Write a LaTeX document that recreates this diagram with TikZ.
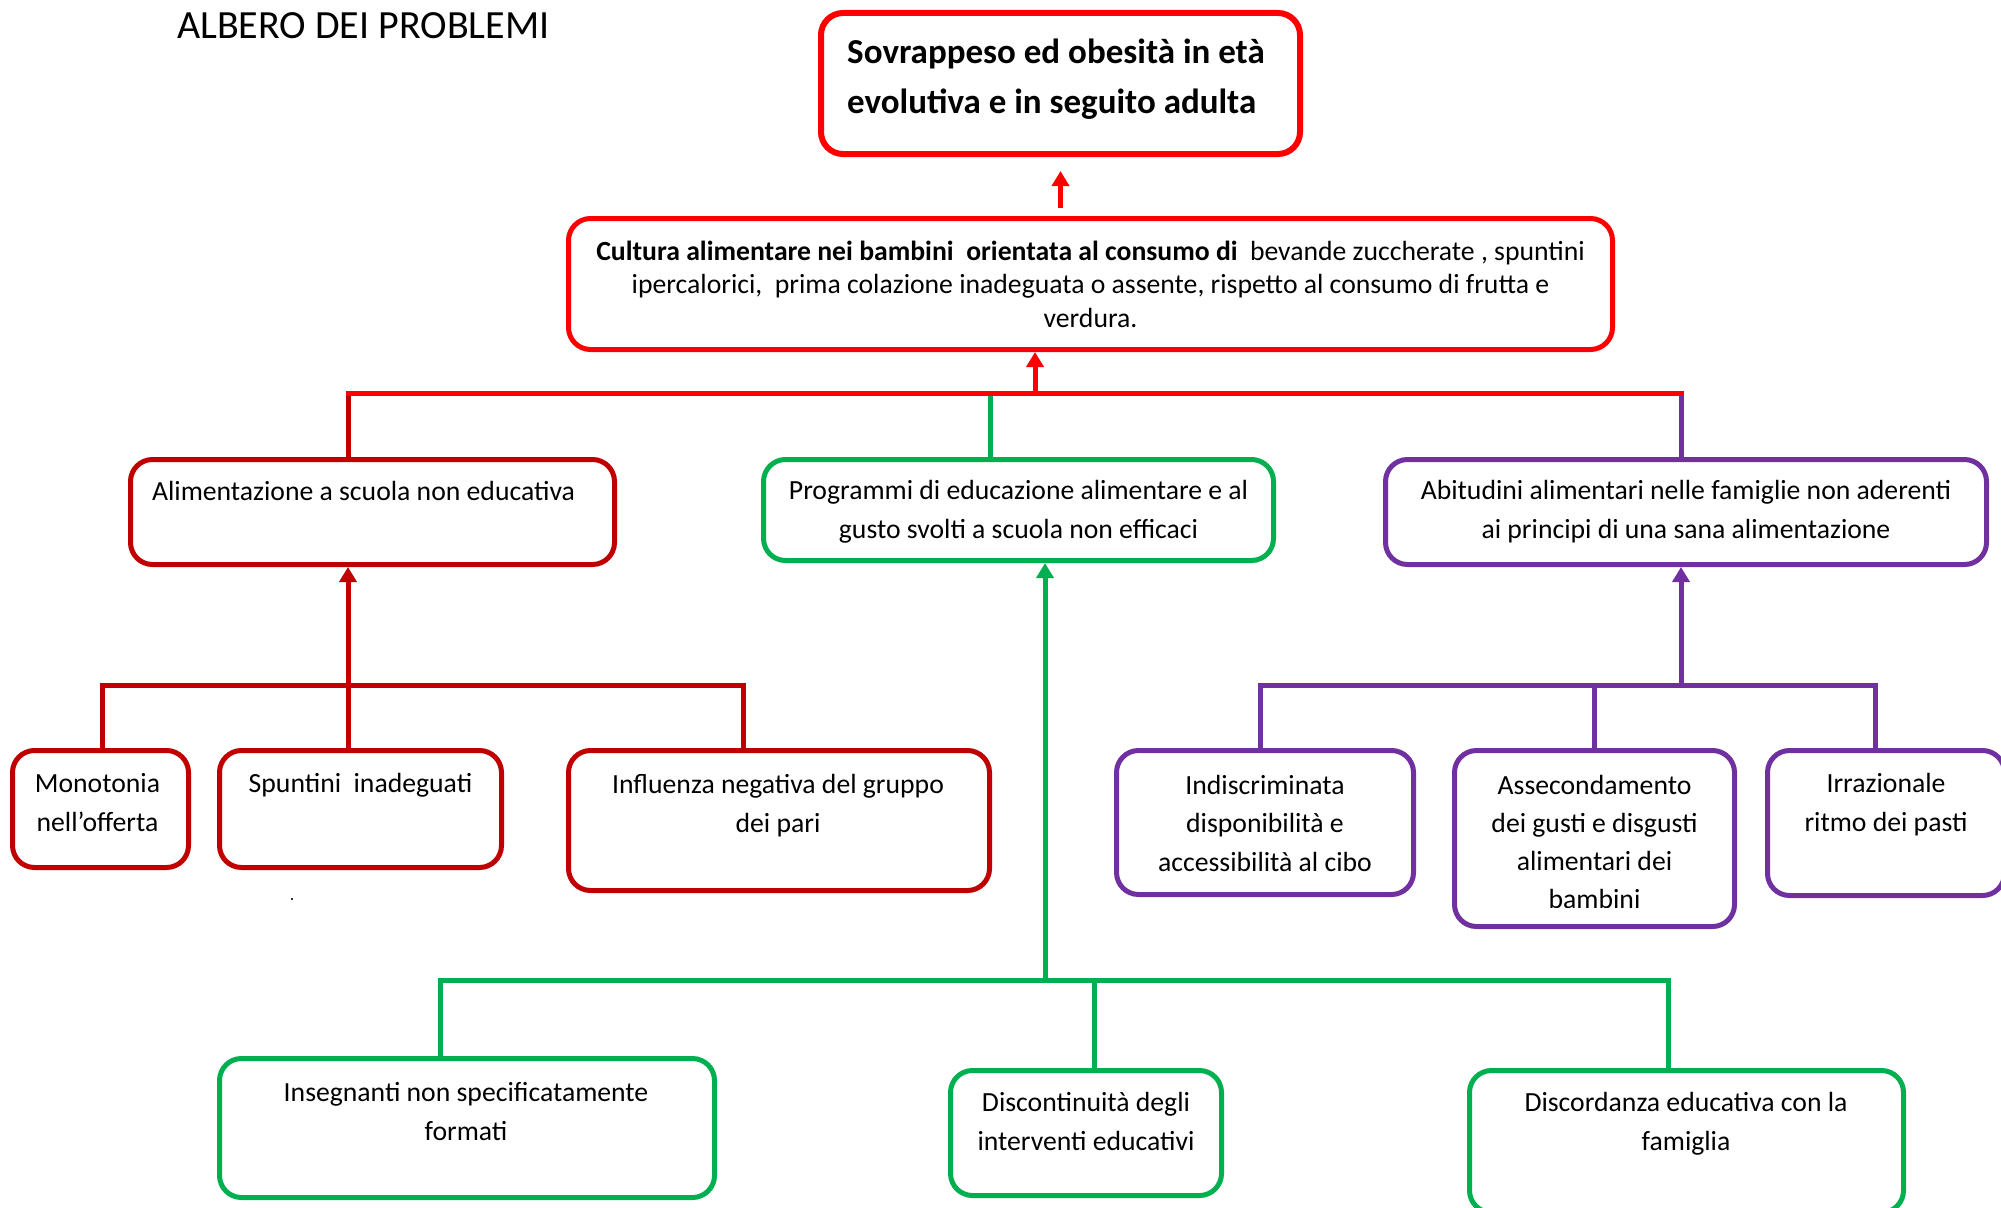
\documentclass[tikz,border=0pt]{standalone}
\usepackage{fontspec}
\setmainfont{Carlito}
\usetikzlibrary{arrows.meta, positioning}
\definecolor{cRed}{HTML}{FF0000}
\definecolor{cDark}{HTML}{C00000}
\definecolor{cGreen}{HTML}{00B050}
\definecolor{cPurple}{HTML}{7030A0}

\begin{document}
\begin{tikzpicture}[x=1pt, y=-1pt,
  box/.style={draw=#1, line width=5pt, rounded corners=22pt, fill=white, inner sep=0pt},
  txt/.style={align=center, anchor=base, inner sep=0pt, font=\fontsize{27.7pt}{38.5pt}\selectfont},
  link/.style={draw=#1, line width=5pt},
  arr/.style={draw=#1, line width=5pt, -{Triangle[length=15pt, width=17pt]}}]
  \useasboundingbox (0,0) rectangle (2001,1207);

  \node[anchor=base west, inner sep=0pt, font=\fontsize{40pt}{48pt}\selectfont] (title) at (177,38) {ALBERO DEI PROBLEMI};

  % top of the tree (text nodes sit on the baseline of their last line)
  \node[box=cRed, line width=6pt, minimum width=479pt, minimum height=141pt] (sovr) at (1060.5,83.5) {};
  \node[txt, anchor=base west, align=left, font=\bfseries\fontsize{35pt}{50pt}\selectfont] (sovr-t) at (847,113) {Sovrappeso ed obesità in età\\evolutiva e in seguito adulta};
  \node[box=cRed, minimum width=1044pt, minimum height=131pt] (cult) at (1090.5,284) {};
  \node[txt, font=\fontsize{27.7pt}{33.5pt}\selectfont] (cult-t) at (1090.5,327) {{\bfseries Cultura alimentare nei bambini\ \ orientata al consumo di}\ \ bevande zuccherate , spuntini\\ipercalorici,\ \ prima colazione inadeguata o assente, rispetto al consumo di frutta e\\verdura.};

  % second row
  \node[box=cDark, minimum width=484pt, minimum height=105pt] (alim) at (372.5,512) {};
  \node[txt] (alim-t) at (363.5,500) {Alimentazione a scuola non educativa};
  \node[box=cGreen, minimum width=510pt, minimum height=101pt] (prog) at (1018.5,510) {};
  \node[txt] (prog-t) at (1018.5,538) {Programmi di educazione alimentare e al\\gusto svolti a scuola non efficaci};
  \node[box=cPurple, minimum width=601pt, minimum height=105pt] (abit) at (1686,512) {};
  \node[txt] (abit-t) at (1686,538) {Abitudini alimentari nelle famiglie non aderenti\\ai principi di una sana alimentazione};

  % third row
  \node[box=cDark, minimum width=176pt, minimum height=117pt] (mono) at (100.5,809) {};
  \node[txt] (mono-t) at (97.5,831) {Monotonia\\nell’offerta};
  \node[box=cDark, minimum width=282pt, minimum height=117pt] (spunt) at (360.5,809) {};
  \node[txt] (spunt-t) at (360.5,792) {Spuntini\ \ inadeguati};
  \node[box=cDark, minimum width=421pt, minimum height=140pt] (influ) at (779,820.5) {};
  \node[txt] (influ-t) at (778,832) {Influenza negativa del gruppo\\dei pari};
  \node[fill=black!80, inner sep=0pt, minimum size=2.5pt] (dot) at (292,899) {};

  \node[box=cPurple, minimum width=297pt, minimum height=144pt] (indis) at (1265,822.5) {};
  \node[txt] (indis-t) at (1265,871) {Indiscriminata\\disponibilità e\\accessibilità al cibo};
  \node[box=cPurple, minimum width=280pt, minimum height=176pt] (asse) at (1594.5,838.5) {};
  \begin{scope}
    \clip (1452,760) rectangle (1737,907);
    \node[txt, font=\fontsize{27.7pt}{38pt}\selectfont] (asse-t) at (1594.5,908) {Assecondamento\\dei gusti e disgusti\\alimentari dei\\bambini};
  \end{scope}
  \node[box=cPurple, minimum width=237pt, minimum height=145pt] (irraz) at (1886,823) {};
  \node[txt] (irraz-t) at (1886,831) {Irrazionale\\ritmo dei pasti};

  % bottom row
  \node[box=cGreen, minimum width=495pt, minimum height=139pt] (inseg) at (467,1128) {};
  \node[txt] (inseg-t) at (466,1140) {Insegnanti non specificatamente\\formati};
  \node[box=cGreen, minimum width=271pt, minimum height=125pt] (disco) at (1086,1133) {};
  \node[txt] (disco-t) at (1086,1150) {Discontinuità degli\\interventi educativi};
  \node[box=cGreen, minimum width=434pt, minimum height=142pt] (disc) at (1686.5,1141.5) {};
  \node[txt] (disc-t) at (1686,1150) {Discordanza educativa con la\\famiglia};

  % junctions on the branch lines
  \coordinate (jA) at (348,393);
  \coordinate (jG) at (990,393);
  \coordinate (jC) at (1035,393);
  \coordinate (jP) at (1681,393);
  \coordinate (kM) at (102,685);
  \coordinate (kS) at (348,685);
  \coordinate (kI) at (743,685);
  \coordinate (pI) at (1260,685);
  \coordinate (pA) at (1594,685);
  \coordinate (pR) at (1875,685);
  \coordinate (gI) at (440,980);
  \coordinate (gD) at (1094,980);
  \coordinate (gF) at (1668,980);
  \coordinate (gU) at (1045,980);

  \draw[arr=cRed, shorten <=8pt, shorten >=14pt] (sovr.south |- cult.north) -- (sovr.south);

  \draw[link=cDark] (jA) -- (jA |- alim.north);
  \draw[link=cGreen] (jG) -- (jG |- prog.north);
  \draw[link=cPurple] (jP) -- (jP |- abit.north);
  \draw[link=cRed, line cap=rect] (jA) -- (jP);
  \draw[arr=cRed] (jC) -- (jC |- cult.south);

  \draw[link=cDark] (kM |- mono.north) -- (kM) -- (kI) -- (kI |- influ.north);
  \draw[arr=cDark] (kS |- spunt.north) -- (kS |- alim.south);

  \draw[link=cPurple] (pI |- indis.north) -- (pI) -- (pR) -- (pR |- irraz.north);
  \draw[link=cPurple] (pA) -- (pA |- asse.north);
  \draw[arr=cPurple] (pA -| jP) -- (jP |- abit.south);

  \draw[link=cGreen] (gI |- inseg.north) -- (gI) -- (gF) -- (gF |- disc.north);
  \draw[link=cGreen] (gD) -- (gD |- disco.north);
  \draw[arr=cGreen] (gU) -- (gU |- prog.south);
\end{tikzpicture}
\end{document}
